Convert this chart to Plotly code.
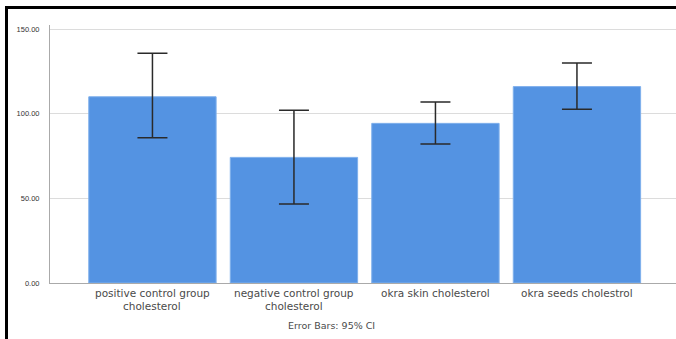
import plotly.graph_objects as go

categories = [["positive control group", "cholesterol"], ["negative control group", "cholesterol"],
              ["okra skin cholesterol"], ["okra seeds cholestrol"]]
means = [110.0, 74.2, 94.3, 116.0]
ci_upper = [135.7, 102.0, 106.9, 130.0]
ci_lower = [85.8, 46.7, 82.1, 102.6]
y_ticks = [0, 50, 100, 150]
y_tick_labels = ["0.00", "50.00", "100.00", "150.00"]
footnote = "Error Bars: 95% CI"

err_plus = [u - m for u, m in zip(ci_upper, means)]
err_minus = [m - l for m, l in zip(means, ci_lower)]
xpos = list(range(len(categories)))

fig = go.Figure(go.Bar(
    x=xpos, y=means,
    marker=dict(color="#5493E2", line=dict(color="#7FB0EC", width=1)),
    error_y=dict(type="data", symmetric=False, array=err_plus, arrayminus=err_minus,
                 color="#2a2a2a", thickness=1.5, width=15),
    width=0.9,
))

L, T, R, B = 50, 25, 0, 56
W, H = 676, 339
pw, ph = W - L - R, H - T - B

def px(x):
    return (x - L) / pw

def py(y):
    return (H - B - y) / ph

FONT = "Liberation Sans, Arial, sans-serif"
LABEL_FONT = "DejaVu Sans, Liberation Sans, sans-serif"
annotations = []
for i, lines in enumerate(categories):
    for j, line in enumerate(lines):
        annotations.append(dict(text=line, xref="x", yref="paper", x=xpos[i], y=py(292.5 + 13 * j),
                                showarrow=False, borderpad=0,
                                font=dict(family=LABEL_FONT, size=10.5, color="#4a4a4a"),
                                xanchor="center", yanchor="middle"))
annotations.append(dict(text=footnote, xref="paper", yref="paper", x=px(331), y=py(325),
                        showarrow=False, borderpad=0,
                        font=dict(family=LABEL_FONT, size=9.5, color="#4a4a4a"),
                        xanchor="center", yanchor="middle"))

fig.update_layout(
    width=W, height=H, margin=dict(l=L, r=R, t=T, b=B),
    paper_bgcolor="white", plot_bgcolor="white",
    font=dict(family=FONT, color="#333"),
    showlegend=False,
    bargap=0.1,
    xaxis=dict(tickmode="array", tickvals=xpos, showticklabels=False,
               range=[-0.724, 3.70], showgrid=False, showline=True, linecolor="#aaa", linewidth=1,
               ticks=""),
    yaxis=dict(range=[0, 152.4], tickvals=y_ticks, ticktext=y_tick_labels,
               showgrid=True, gridcolor="#dcdcdc", gridwidth=1, zeroline=False,
               showline=True, linecolor="#aaa", linewidth=1, ticks="",
               tickfont=dict(size=7.5, color="#333"), ticklabelstandoff=8),
    annotations=annotations,
    shapes=[
        dict(type="line", xref="paper", yref="paper", x0=px(5), x1=px(676), y0=py(7.5), y1=py(7.5),
             line=dict(color="black", width=3)),
        dict(type="line", xref="paper", yref="paper", x0=px(6.5), x1=px(6.5), y0=py(6), y1=py(339),
             line=dict(color="black", width=3)),
    ],
)

fig.write_html("out.html", config={"displayModeBar": False},
               post_script="document.body.style.margin='0';document.body.style.overflow='hidden';")
